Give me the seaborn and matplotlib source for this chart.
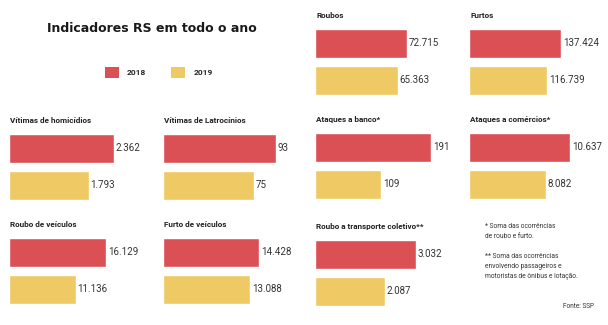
import matplotlib
matplotlib.use("Agg")
import matplotlib.pyplot as plt
from matplotlib.patches import Patch
import seaborn as sns
import pandas as pd

# ---- data ----
years = ["2018", "2019"]
titles = ["Roubos", "Furtos",
          "Vítimas de homicídios", "Vítimas de Latrocínios",
          "Ataques a banco*", "Ataques a comércios*",
          "Roubo de veículos", "Furto de veículos",
          "Roubo a transporte coletivo**"]
values_2018 = [72715, 137424, 2362, 93, 191, 10637, 16129, 14428, 3032]
values_2019 = [65363, 116739, 1793, 75, 109, 8082, 11136, 13088, 2087]
footnote_1 = ["* Soma das ocorrências", "de roubo e furto."]
footnote_2 = ["** Soma das ocorrências", "envolvendo passageiros e",
              "motoristas de ônibus e lotação."]
source = "Fonte: SSP"
main_title = "Indicadores RS em todo o ano"

# ---- style / layout ----
sns.set_theme(style="white")
plt.rcParams["font.family"] = ["Roboto", "DejaVu Sans"]
RED = "#DB5055"
YELLOW = "#EFC964"
palette = {"2018": RED, "2019": YELLOW}

W, H = 608, 325
fig = plt.figure(figsize=(W / 100, H / 100), dpi=100)
fig.patch.set_facecolor("white")

# (left px, top px, width px of longest bar) for each panel
layout = [(315, 29, 92), (469, 29, 92),
          (9, 134, 105), (163, 134, 113),
          (315, 133, 116), (469, 133, 101),
          (9, 238, 97), (163, 238, 96),
          (315, 240, 101)]
BAR_W = 0.78
PX_PER_UNIT = 37
ax_h = (1 + BAR_W) * PX_PER_UNIT

def fmt(v):
    return f"{int(round(v)):,}".replace(",", ".")

for title, v18, v19, (lx, ty, bw) in zip(titles, values_2018, values_2019, layout):
    ax = fig.add_axes([lx / W, 1 - (ty + ax_h) / H, bw / W, ax_h / H])
    df = pd.DataFrame({"ano": years, "valor": [v18, v19]})
    sns.barplot(data=df, x="valor", y="ano", hue="ano", palette=palette,
                order=years, hue_order=years, width=BAR_W, dodge=False,
                legend=False, ax=ax, saturation=1)
    ax.set_xlim(0, max(v18, v19))
    ax.set_ylim(1 + BAR_W / 2, -BAR_W / 2)
    ax.set_axis_off()
    for cont in ax.containers:
        ax.bar_label(cont, labels=[fmt(b.get_width()) for b in cont],
                     padding=1.2, fontsize=7, color="#333333", clip_on=False)
    ax.annotate(title, xy=(0, 1), xycoords="axes fraction",
                xytext=(1, 9.5), textcoords="offset points",
                ha="left", va="center", fontsize=5.9, fontweight="bold",
                color="#222222")

# main title
fig.text(152 / W, 1 - 29 / H, main_title, ha="center", va="center",
         fontsize=9, fontweight="bold", color="#1a1a1a",
         family=["DejaVu Sans"])

# legend
handles = [Patch(facecolor=palette[y], edgecolor="none", label=y) for y in years]
fig.legend(handles=handles, loc="upper left",
           bbox_to_anchor=(105 / W, 1 - 67 / H), ncol=2, frameon=False,
           handlelength=1.7, handleheight=1.7,
           handletextpad=0.95, columnspacing=3.0, borderpad=0,
           borderaxespad=0, prop={"weight": "bold", "size": 6})

# footnotes
for lines, y0 in [(footnote_1, 226), (footnote_2, 256)]:
    for i, line in enumerate(lines):
        fig.text(485 / W, 1 - (y0 + i * 10.3) / H, line, ha="left",
                 va="center", fontsize=4.8, color="#333333")
fig.text(594 / W, 1 - 307 / H, source, ha="right", va="center",
         fontsize=4.7, color="#333333")

fig.savefig("out.png", dpi=100, facecolor="white")
